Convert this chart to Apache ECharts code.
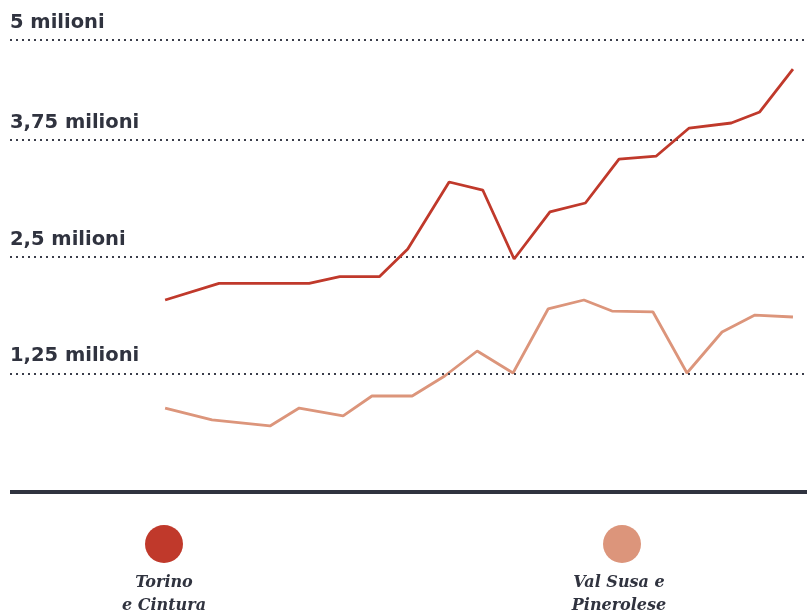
<!DOCTYPE html>
<html>
<head>
<meta charset="utf-8">
<script src="https://cdn.jsdelivr.net/npm/echarts@6/dist/echarts.min.js"></script>
<style>html,body{margin:0;padding:0;background:#fff}#c{width:807px;height:612px}</style>
</head>
<body>
<div id="c"></div>
<script>
// Series names (legend)
const seriesNames = ['Torino e Cintura', 'Val Susa e Pinerolese'];
const legendLabels = ['Torino\ne Cintura', 'Val Susa e\nPinerolese'];
// x positions (period index; spacing is irregular)
const torinoX = [0, 1.46, 2.7, 3.9, 4.73, 5.8, 6.57, 7.69, 8.6, 9.45, 10.42, 11.38, 12.29, 13.3, 14.19, 15.33, 16.1, 17];
const torinoY = [2035000, 2214000, 2214000, 2214000, 2285000, 2285000, 2581000, 3299000, 3213000, 2474000, 2978000, 3074000, 3545000, 3577000, 3877000, 3931000, 4049000, 4509000];
const valsusaX = [0, 1.27, 2.84, 3.63, 4.82, 5.6, 6.69, 7.57, 8.45, 9.42, 10.37, 11.34, 12.1, 13.21, 14.13, 15.08, 15.97, 17];
const valsusaY = [878000, 750000, 686000, 878000, 793000, 1007000, 1007000, 1221000, 1489000, 1253000, 1939000, 2035000, 1917000, 1907000, 1253000, 1692000, 1874000, 1853000];
// Gridline values and labels (top rule drawn at the plot top, as in the source)
const yTop = 4820000;
const gridValues = [1250000, 2500000, 3750000, yTop];
const gridLabels = ['1,25 milioni', '2,5 milioni', '3,75 milioni', '5 milioni'];

const colors = ['#c0392b', '#dc957b'];
const ink = '#30333f';

const chart = echarts.init(document.getElementById('c'), null, {renderer: 'canvas'});
const zip = (xs, ys) => xs.map((x, i) => [x, ys[i]]);

chart.setOption({
  animation: false,
  grid: {left: 10, right: 0, top: 40, bottom: 120},
  xAxis: {
    type: 'value', min: -4.2, max: 17.38,
    axisLine: {show: false}, axisTick: {show: false}, axisLabel: {show: false}, splitLine: {show: false}
  },
  yAxis: {
    type: 'value', min: -21400, max: yTop,
    axisLine: {show: false}, axisTick: {show: false}, axisLabel: {show: false}, splitLine: {show: false}
  },
  legend: [
    {data: [seriesNames[0]], left: 145, top: 525, padding: 0, icon: 'circle', itemWidth: 38, itemHeight: 38, formatter: () => '', selectedMode: false},
    {data: [seriesNames[1]], left: 603, top: 525, padding: 0, icon: 'circle', itemWidth: 38, itemHeight: 38, formatter: () => '', selectedMode: false}
  ],
  graphic: [
    {type: 'text', x: 164, y: 571, style: {text: legendLabels[0], align: 'center', verticalAlign: 'top', font: 'italic bold 16px "DejaVu Serif"', fill: ink, lineHeight: 23}},
    {type: 'text', x: 619, y: 571, style: {text: legendLabels[1], align: 'center', verticalAlign: 'top', font: 'italic bold 16px "DejaVu Serif"', fill: ink, lineHeight: 23}},
    {type: 'rect', left: 10, top: 490, shape: {width: 797, height: 4}, style: {fill: ink}, silent: true}
  ],
  series: [
    {
      name: seriesNames[0], type: 'line', data: zip(torinoX, torinoY), showSymbol: false, symbol: 'none',
      color: colors[0], lineStyle: {width: 2.8, color: colors[0]}, z: 5,
      markLine: {
        silent: true, symbol: 'none', animation: false,
        lineStyle: {color: '#3a3d4a', width: 2, type: [2, 4]},
        label: {
          position: 'insideStartTop', distance: [0, 7],
          formatter: p => gridLabels[p.dataIndex],
          color: ink, fontFamily: 'DejaVu Sans', fontWeight: 'bold', fontSize: 19.5
        },
        data: gridValues.map(v => ({yAxis: v}))
      }
    },
    {
      name: seriesNames[1], type: 'line', data: zip(valsusaX, valsusaY), showSymbol: false, symbol: 'none',
      color: colors[1], lineStyle: {width: 2.8, color: colors[1]}, z: 4
    }
  ]
});
</script>
</body>
</html>
